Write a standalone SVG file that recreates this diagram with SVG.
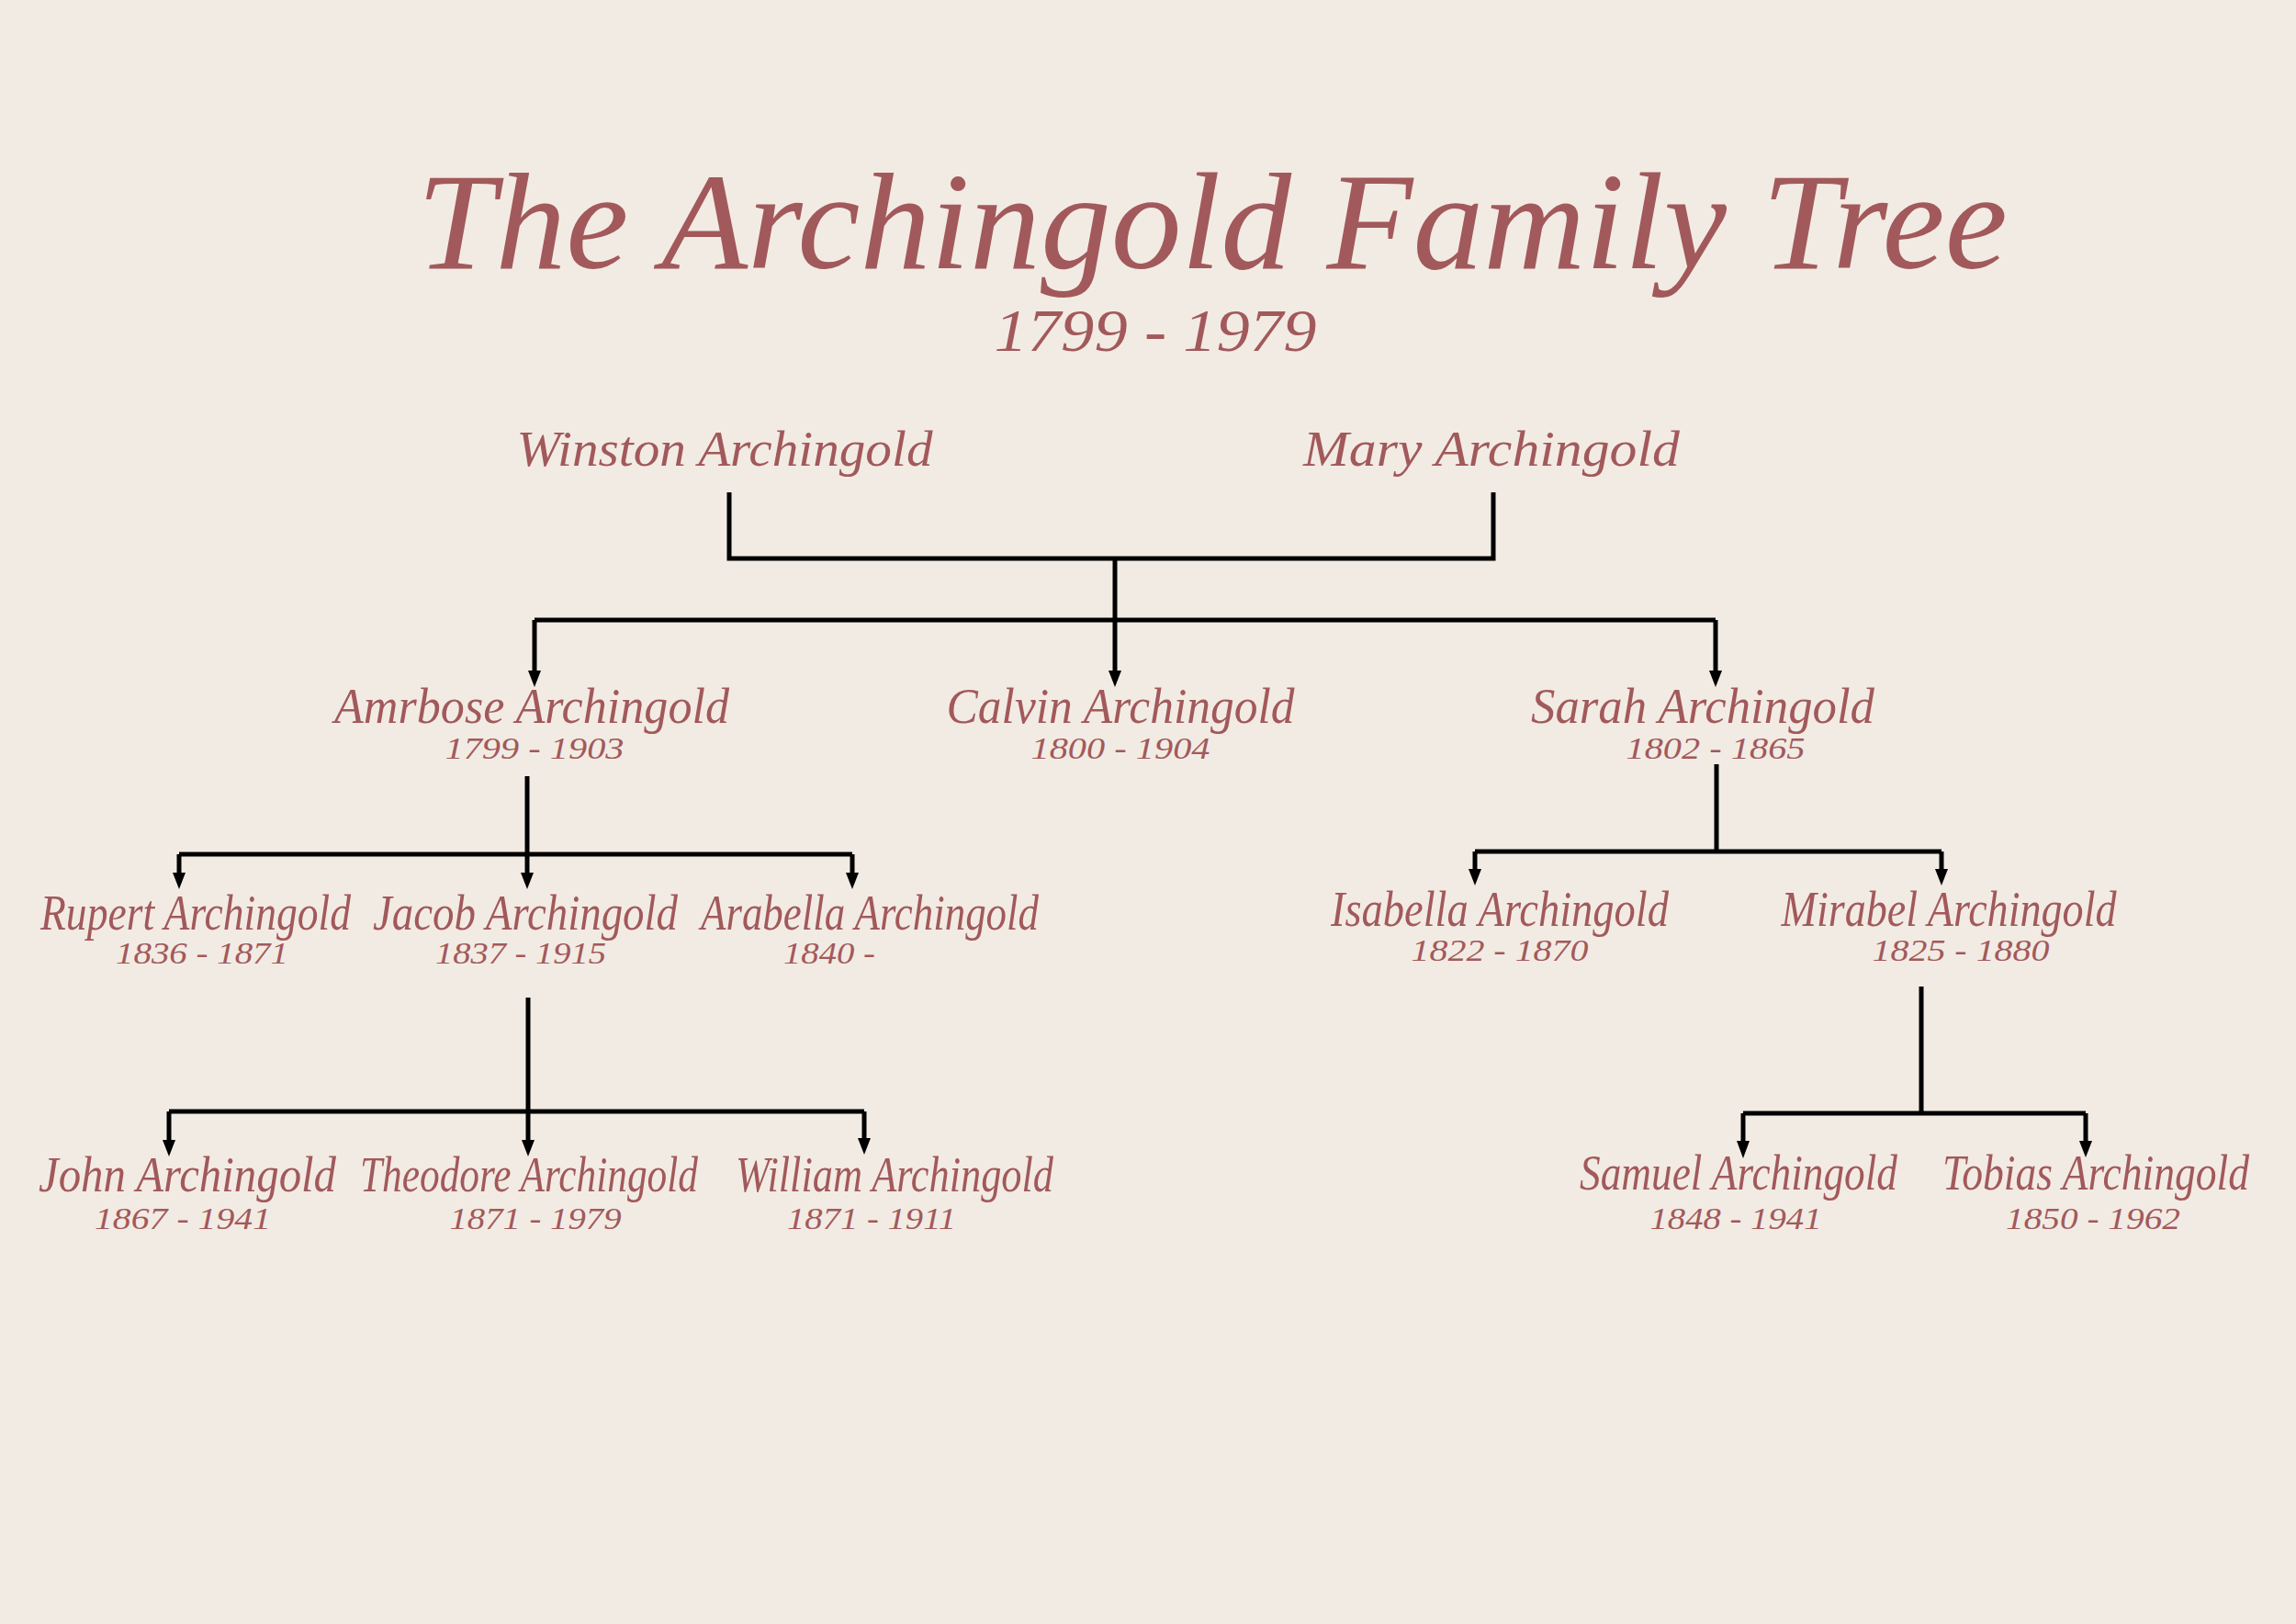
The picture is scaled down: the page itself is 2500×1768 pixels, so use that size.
<svg xmlns="http://www.w3.org/2000/svg" width="2500" height="1768" viewBox="0 0 2500 1768">
<style>
text{font-family:"Liberation Serif","DejaVu Serif",serif;font-style:italic;fill:#A2595B;text-anchor:middle}
.title{font-size:150px}
.sub{font-size:66px}
.name{font-size:54px}
.date{font-size:34px}
.c{fill:none;stroke:#000;stroke-width:5}
</style>
<rect width="2500" height="1768" fill="#F2EBE3"/>
<g id="title">
<text class="title" x="1320" y="292" textLength="1732" lengthAdjust="spacingAndGlyphs">The Archingold Family Tree</text>
<text class="sub" x="1258" y="382" textLength="351" lengthAdjust="spacingAndGlyphs">1799 - 1979</text>
</g>
<g id="connectors">
<path class="c" d="M794,536 V608 H1626 V536"/>
<path class="c" d="M582,675 H1868"/>
<path class="c" d="M1214,608 V675"/>
<path class="c" d="M574,845 V930"/>
<path class="c" d="M195,930 H928"/>
<path class="c" d="M575,1086 V1210"/>
<path class="c" d="M184,1210 H941"/>
<path class="c" d="M1869,832 V927"/>
<path class="c" d="M1606,927 H2114"/>
<path class="c" d="M2092,1074 V1212"/>
<path class="c" d="M1898,1212 H2271"/>
<path class="c" d="M582,675 V732 M1214,675 V732 M1868,675 V732"/>
<path class="c" d="M195,930 V952 M574,930 V952 M928,930 V952"/>
<path class="c" d="M184,1210 V1243 M575,1210 V1243 M941,1210 V1241"/>
<path class="c" d="M1606,927 V948 M2114,927 V948"/>
<path class="c" d="M1898,1212 V1244 M2271,1212 V1244"/>
<g fill="#000">
<polygon points="575,730 589,730 582,748"/>
<polygon points="1207,730 1221,730 1214,748"/>
<polygon points="1861,730 1875,730 1868,748"/>
<polygon points="188,950 202,950 195,968"/>
<polygon points="567,950 581,950 574,968"/>
<polygon points="921,950 935,950 928,968"/>
<polygon points="177,1241 191,1241 184,1259"/>
<polygon points="568,1241 582,1241 575,1259"/>
<polygon points="934,1239 948,1239 941,1257"/>
<polygon points="1599,946 1613,946 1606,964"/>
<polygon points="2107,946 2121,946 2114,964"/>
<polygon points="1891,1242 1905,1242 1898,1261"/>
<polygon points="2264,1242 2278,1242 2271,1260"/>
</g>
</g>
<g id="winston"><text class="name" x="789" y="507" font-size="58" textLength="453" lengthAdjust="spacingAndGlyphs">Winston Archingold</text></g>
<g id="mary"><text class="name" x="1624" y="507" font-size="58" textLength="410" lengthAdjust="spacingAndGlyphs">Mary Archingold</text></g>
<g id="ambrose"><text class="name" x="579" y="787" textLength="430" lengthAdjust="spacingAndGlyphs">Amrbose Archingold</text><text class="date" x="582" y="826" textLength="195" lengthAdjust="spacingAndGlyphs">1799 - 1903</text></g>
<g id="calvin"><text class="name" x="1220" y="787" textLength="379" lengthAdjust="spacingAndGlyphs">Calvin Archingold</text><text class="date" x="1220" y="826" textLength="195" lengthAdjust="spacingAndGlyphs">1800 - 1904</text></g>
<g id="sarah"><text class="name" x="1854" y="787" textLength="374" lengthAdjust="spacingAndGlyphs">Sarah Archingold</text><text class="date" x="1868" y="826" textLength="195" lengthAdjust="spacingAndGlyphs">1802 - 1865</text></g>
<g id="rupert"><text class="name" x="213" y="1012" textLength="338" lengthAdjust="spacingAndGlyphs">Rupert Archingold</text><text class="date" x="220" y="1049" textLength="188" lengthAdjust="spacingAndGlyphs">1836 - 1871</text></g>
<g id="jacob"><text class="name" x="572" y="1012" textLength="332" lengthAdjust="spacingAndGlyphs">Jacob Archingold</text><text class="date" x="567" y="1049" textLength="186" lengthAdjust="spacingAndGlyphs">1837 - 1915</text></g>
<g id="arabella"><text class="name" x="947" y="1012" textLength="368" lengthAdjust="spacingAndGlyphs">Arabella Archingold</text><text class="date" x="903" y="1049" textLength="100" lengthAdjust="spacingAndGlyphs">1840 -</text></g>
<g id="isabella"><text class="name" x="1633" y="1008" textLength="368" lengthAdjust="spacingAndGlyphs">Isabella Archingold</text><text class="date" x="1633" y="1046" textLength="193" lengthAdjust="spacingAndGlyphs">1822 - 1870</text></g>
<g id="mirabel"><text class="name" x="2122" y="1008" textLength="365" lengthAdjust="spacingAndGlyphs">Mirabel Archingold</text><text class="date" x="2135" y="1046" textLength="193" lengthAdjust="spacingAndGlyphs">1825 - 1880</text></g>
<g id="john"><text class="name" x="204" y="1297" textLength="324" lengthAdjust="spacingAndGlyphs">John Archingold</text><text class="date" x="199" y="1338" textLength="192" lengthAdjust="spacingAndGlyphs">1867 - 1941</text></g>
<g id="theodore"><text class="name" x="576" y="1297" textLength="368" lengthAdjust="spacingAndGlyphs">Theodore Archingold</text><text class="date" x="583" y="1338" textLength="187" lengthAdjust="spacingAndGlyphs">1871 - 1979</text></g>
<g id="william"><text class="name" x="974" y="1297" textLength="346" lengthAdjust="spacingAndGlyphs">William Archingold</text><text class="date" x="949" y="1338" textLength="184" lengthAdjust="spacingAndGlyphs">1871 - 1911</text></g>
<g id="samuel"><text class="name" x="1893" y="1295" textLength="346" lengthAdjust="spacingAndGlyphs">Samuel Archingold</text><text class="date" x="1890" y="1338" textLength="187" lengthAdjust="spacingAndGlyphs">1848 - 1941</text></g>
<g id="tobias"><text class="name" x="2282" y="1295" textLength="334" lengthAdjust="spacingAndGlyphs">Tobias Archingold</text><text class="date" x="2279" y="1338" textLength="190" lengthAdjust="spacingAndGlyphs">1850 - 1962</text></g>
</svg>
